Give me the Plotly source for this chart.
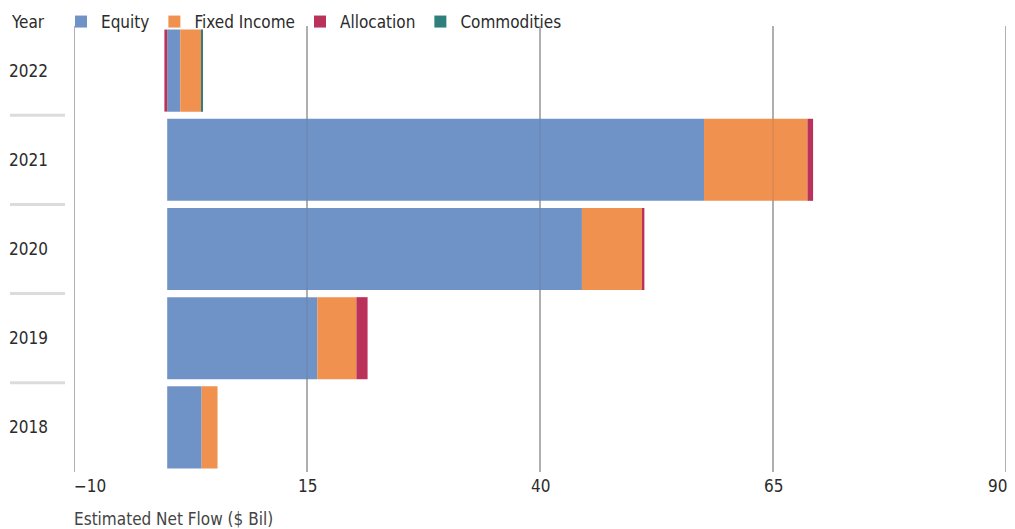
import plotly.graph_objects as go

years = ["2018", "2019", "2020", "2021", "2022"]
equity = [3.7, 16.1, 44.5, 57.6, 1.4]
fixed_income = [1.7, 4.2, 6.5, 11.1, 2.3]
allocation = [0.0, 1.2, 0.2, 0.6, -0.3]
commodities = [0.0, 0.0, 0.0, 0.0, 0.1]

series_names = ["Equity", "Fixed Income", "Allocation", "Commodities"]
series_values = [equity, fixed_income, allocation, commodities]
colors = ["#7093C7", "#F1914F", "#BA3259", "#2F7F7C"]

x_ticks = [-10, 15, 40, 65, 90]
x_tick_labels = ["\u221210", "15", "40", "65", "90"]
x_title = "Estimated Net Flow ($ Bil)"
y_title = "Year"

FONT = "DejaVu Sans Condensed, Roboto Condensed, Liberation Sans Narrow, Roboto, sans-serif"
TXT = "#2b2b2b"
FS = 17
GRID = "#7a7a7a"

fig = go.Figure()
for name, vals, col in zip(series_names, series_values, colors):
    fig.add_trace(go.Bar(
        y=years, x=vals, name=name, orientation="h",
        marker=dict(color=col, line=dict(width=0)),
    ))

# page body has an 8px default margin, so the figure is sized to fit the window
W, H = 1007, 521
ml, mr, mt, mb = 66, 9, 18, 57
plot_w = W - ml - mr
plot_h = H - mt - mb

fig.update_layout(
    width=W, height=H,
    margin=dict(l=ml, r=mr, t=mt, b=mb, autoexpand=False),
    barmode="relative",
    bargap=0.08,
    plot_bgcolor="white",
    paper_bgcolor="white",
    font=dict(family=FONT, size=FS, color=TXT),
    showlegend=True,
    legend=dict(
        orientation="h", x=-13 / plot_w, xanchor="left",
        y=1 + 4 / plot_h, yanchor="middle",
        bgcolor="rgba(0,0,0,0)",
        font=dict(family=FONT, size=FS, color=TXT),
        traceorder="normal", itemwidth=30,
        tracegroupgap=0,
    ),
    xaxis=dict(
        range=[x_ticks[0], x_ticks[-1]],
        tickvals=x_ticks, showticklabels=False,
        showgrid=False,
        zeroline=False, showline=False, ticks="",
        fixedrange=True, automargin=False,
    ),
    yaxis=dict(
        type="category", categoryorder="array", categoryarray=years,
        showgrid=False, zeroline=False, showline=False, ticks="",
        ticklabelstandoff=25,
        tickfont=dict(family=FONT, size=FS, color=TXT),
        fixedrange=True, automargin=False,
    ),
)

annotations = []
n = len(x_ticks)
for i, (v, lab) in enumerate(zip(x_ticks, x_tick_labels)):
    anchor = "left" if i == 0 else ("right" if i == n - 1 else "center")
    shift = -2 if i == 0 else (3 if i == n - 1 else 0)
    annotations.append(dict(
        x=v, xref="x", y=0, yref="paper", text=lab, showarrow=False,
        xanchor=anchor, yanchor="middle", yshift=-14, xshift=shift,
        font=dict(family=FONT, size=FS, color=TXT),
    ))
annotations.append(dict(
    x=0, xref="paper", y=0, yref="paper", text=x_title, showarrow=False,
    xanchor="left", yanchor="middle", yshift=-47, xshift=-2,
    font=dict(family=FONT, size=FS, color="#444"),
))
annotations.append(dict(
    x=(1 - ml) / plot_w, xref="paper", y=1.0, yref="paper", text=y_title,
    showarrow=False, xanchor="left", yanchor="middle", yshift=4,
    font=dict(family=FONT, size=FS, color=TXT),
))
fig.update_layout(annotations=annotations)

shapes = []
for k in range(len(years) - 1):
    b = k + 0.5
    shapes.append(dict(
        type="line", xref="paper", yref="y",
        x0=(2 - ml) / plot_w, x1=(57 - ml) / plot_w, y0=b, y1=b,
        line=dict(color="#dcdcdc", width=3), layer="above",
    ))
for v in x_ticks:
    shapes.append(dict(
        type="line", xref="x", yref="paper", x0=v, x1=v, y0=0, y1=1,
        line=dict(color=GRID, width=1), layer="below",
    ))
    shapes.append(dict(
        type="line", xref="x", yref="paper", x0=v, x1=v, y0=0, y1=1,
        line=dict(color="rgba(90,90,90,0.25)", width=1), layer="above",
    ))
fig.update_layout(shapes=shapes)

fig.write_html("out.html")
